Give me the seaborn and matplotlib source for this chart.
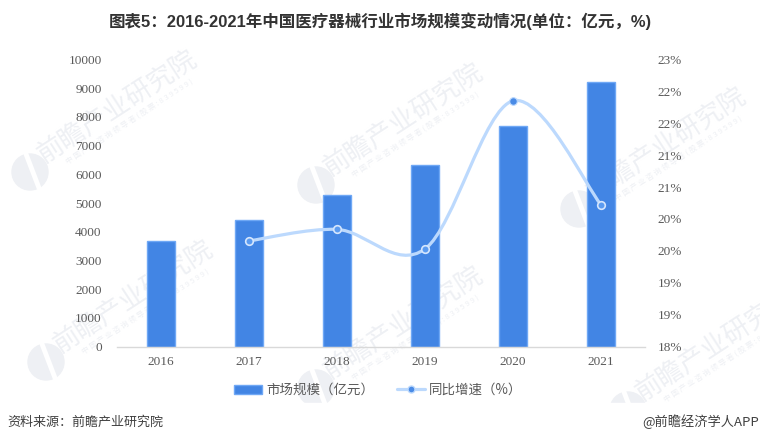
import numpy as np
import pandas as pd
import matplotlib
matplotlib.use("Agg")
import matplotlib.pyplot as plt
import seaborn as sns
from matplotlib.lines import Line2D
from matplotlib.patches import Patch, PathPatch, Circle, Rectangle
from matplotlib.path import Path

years = ["2016", "2017", "2018", "2019", "2020", "2021"]
market_size = [3670, 4410, 5280, 6310, 7680, 9230]
growth_years = ["2017", "2018", "2019", "2020", "2021"]
growth_rate = [19.84, 20.04, 19.70, 22.28, 20.47]

left_ticks = [0, 1000, 2000, 3000, 4000, 5000, 6000, 7000, 8000, 9000, 10000]
right_ticks = list(np.linspace(18, 23, 10))
right_labels = ["18%", "19%", "19%", "20%", "20%", "21%", "21%", "22%", "22%", "23%"]

title = "图表5：2016-2021年中国医疗器械行业市场规模变动情况(单位：亿元，%)"
source = "资料来源：前瞻产业研究院"
credit = "@前瞻经济学人APP"
bar_label = "市场规模（亿元）"
line_label = "同比增速（%）"
wm_main = "前瞻产业研究院"
wm_sub = " ".join("中国产业咨询领导者(股票:839599)")
# logo centre of each watermark, in pixels from top left
wm_logos = [(30, 172), (316, 185), (579, 209), (46, 362), (316, 388), (628, 410)]

BAR = "#4285e4"
BAR_EDGE = "#6fa8f5"
LINE = "#bcd9fd"
WM = "#eef0f4"
W, H = 760, 443

sns.set_theme(style="white")
plt.rcParams["font.family"] = ["Liberation Serif", "Noto Sans CJK SC"]
cjk = ["Noto Sans CJK SC", "DejaVu Sans"]
title_font = ["Liberation Sans", "Noto Sans CJK SC"]


def fx(px):
    return px / W


def fy(px):
    return 1 - px / H


fig = plt.figure(figsize=(7.6, 4.43), dpi=100, facecolor="white")
ax = fig.add_axes([fx(117), fy(346.5), 528 / W, 287 / H])
ax.patch.set_alpha(0)

# watermarks sit behind everything
for lx, ly in wm_logos:
    fig.add_artist(Circle((lx, H - ly), 18, color=WM, zorder=-6,
                          transform=matplotlib.transforms.IdentityTransform()))
    fig.add_artist(Line2D([fx(lx - 4), fx(lx + 9)], [fy(ly - 18), fy(ly + 16)], color="white", lw=3.5, zorder=-5))
    fig.text(fx(lx + 88), fy(ly - 65), wm_main, family=cjk, fontsize=19, color=WM, rotation=33,
             rotation_mode="anchor", ha="center", va="center", zorder=-5)
    fig.text(fx(lx + 100), fy(ly - 50), wm_sub, family=cjk, fontsize=5.5, color=WM, rotation=33,
             rotation_mode="anchor", ha="center", va="center", zorder=-5)
# the watermark layer stops above the footer
fig.add_artist(Rectangle((0, 0), 1, fy(403), color="white", zorder=-4))

df = pd.DataFrame({"year": years, "size": market_size})
sns.barplot(data=df, x="year", y="size", color=BAR, saturation=1, width=0.32,
            edgecolor=BAR_EDGE, linewidth=1, ax=ax, zorder=2)
ax.set_xlim(-0.5, 5.5)
ax.set_ylim(0, 10000)
ax.set_yticks(left_ticks)
ax.set_xlabel("")
ax.set_ylabel("")
ax.tick_params(axis="both", length=0, labelsize=9.5, labelcolor="#595959")
ax.tick_params(axis="x", pad=7)
ax.tick_params(axis="y", pad=11)
sns.despine(ax=ax, left=True)
ax.spines["bottom"].set_color("#d9d9d9")
ax.spines["bottom"].set_linewidth(1)

ax2 = ax.twinx()
ax2.patch.set_alpha(0)
ax2.set_ylim(18, 23)
ax2.set_yticks(right_ticks)
ax2.set_yticklabels(right_labels)
ax2.tick_params(axis="y", length=0, labelsize=9.5, labelcolor="#595959", pad=9)
for s in ax2.spines.values():
    s.set_visible(False)

# smooth curve through the points, control points taken from the data
gx = np.array([years.index(y) for y in growth_years], dtype=float)
gy = np.array(growth_rate)
verts = [(gx[0], gy[0])]
codes = [Path.MOVETO]
k = 1 / 6
for i in range(len(gx) - 1):
    p0 = max(i - 1, 0)
    p3 = min(i + 2, len(gx) - 1)
    c1 = (gx[i] + (gx[i + 1] - gx[p0]) * k, gy[i] + (gy[i + 1] - gy[p0]) * k)
    c2 = (gx[i + 1] - (gx[p3] - gx[i]) * k, gy[i + 1] - (gy[p3] - gy[i]) * k)
    verts += [c1, c2, (gx[i + 1], gy[i + 1])]
    codes += [Path.CURVE4] * 3
ax2.add_patch(PathPatch(Path(verts, codes), fill=False, edgecolor=LINE, linewidth=2.3, capstyle="round", zorder=3))

gdf = pd.DataFrame({"x": gx, "rate": gy})
sns.scatterplot(data=gdf[gdf["rate"] < 22], x="x", y="rate", ax=ax2, s=30, color="#5b9bf0",
                edgecolor="#d5e6fd", linewidth=1.2, zorder=4, legend=False)
sns.scatterplot(data=gdf[gdf["rate"] > 22], x="x", y="rate", ax=ax2, s=30, color="#4a8be6",
                edgecolor=LINE, linewidth=0.8, zorder=4, legend=False)
ax2.set_xlabel("")
ax2.set_ylabel("")
ax2.set_xlim(-0.5, 5.5)

handles = [Patch(facecolor=BAR, edgecolor=BAR_EDGE, linewidth=1),
           Line2D([0], [0], color=LINE, lw=2.3, marker="o", markersize=5,
                  markerfacecolor="#4a8be6", markeredgecolor=LINE)]
fig.legend(handles, [bar_label, line_label], loc="center", bbox_to_anchor=(fx(378), fy(390)),
           ncol=2, frameon=False, handlelength=2.1, handleheight=0.6, handletextpad=0.3, columnspacing=1.7,
           prop={"family": cjk, "size": 9.7}, labelcolor="#595959")

fig.text(fx(380), fy(21), title, family=title_font, fontsize=11.9, fontweight="bold", color="#333333",
         ha="center", va="center")
fig.text(fx(7), fy(422), source, family=cjk, fontsize=9.4, color="#404040", ha="left", va="center")
fig.text(fx(759), fy(422), credit, family=cjk, fontsize=9.5, color="#404040", ha="right", va="center")

fig.savefig("out.png", dpi=100)
